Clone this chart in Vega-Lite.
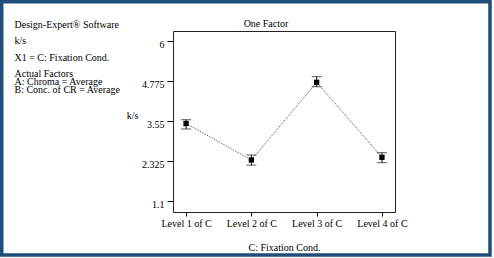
{
  "$schema": "https://vega.github.io/schema/vega-lite/v6.json",
  "width": 222,
  "height": 181,
  "autosize": {"type": "none"},
  "padding": {"left": 173, "top": 31, "right": 99, "bottom": 46},
  "background": "white",
  "title": {
    "text": "One Factor", "anchor": "middle", "frame": "group", "orient": "top",
    "dx": -18, "dy": 35, "offset": 0, "baseline": "alphabetic",
    "font": "Liberation Serif", "fontSize": 10, "fontWeight": "normal", "color": "#000"
  },
  "config": {
    "view": {"stroke": "#222", "strokeWidth": 1},
    "font": "Liberation Serif",
    "axis": {
      "labelFont": "Liberation Serif",
      "titleFont": "Liberation Serif",
      "labelFontSize": 10,
      "titleFontSize": 10,
      "titleFontWeight": "normal",
      "labelColor": "#000",
      "titleColor": "#000",
      "tickColor": "#000",
      "grid": false,
      "domain": false
    }
  },
  "data": {
    "values": [
      {"level": "Level 1 of C", "mean": 3.464, "low": 3.296, "high": 3.58},
      {"level": "Level 2 of C", "mean": 2.347, "low": 2.19, "high": 2.5},
      {"level": "Level 3 of C", "mean": 4.726, "low": 4.59, "high": 4.898},
      {"level": "Level 4 of C", "mean": 2.429, "low": 2.264, "high": 2.57}
    ]
  },
  "resolve": {"axis": {"x": "independent", "y": "independent"}},
  "layer": [
    {
      "mark": {"type": "line", "color": "#555", "strokeDash": [1, 1], "strokeWidth": 1},
      "encoding": {
        "x": {
          "field": "level", "type": "nominal", "sort": null,
          "scale": {"type": "point", "padding": 0.2},
          "axis": {
            "orient": "bottom", "labelAngle": 0, "tickSize": 4, "labelPadding": 2,
            "title": "C: Fixation Cond.", "titleX": 111, "titleY": 38,
            "titleAlign": "center", "titleBaseline": "alphabetic"
          }
        },
        "y": {
          "field": "mean", "type": "quantitative",
          "scale": {"domain": [0.754, 6.297], "nice": false, "zero": false},
          "axis": {
            "values": [1.1, 2.325, 3.55, 4.775, 6], "format": ".4~g",
            "tickSize": 6, "labelPadding": 3, "labelOffset": 3.5,
            "title": "k/s", "titleAngle": 0, "titleX": -41, "titleY": 87,
            "titleAlign": "center", "titleBaseline": "alphabetic"
          }
        }
      }
    },
    {
      "mark": {"type": "rule", "color": "#111", "strokeWidth": 1},
      "encoding": {
        "x": {
          "field": "level", "type": "nominal", "sort": null,
          "axis": {
            "orient": "top", "labels": false, "ticks": false, "domain": false,
            "title": ["Design-Expert® Software", "k/s", "X1 = C: Fixation Cond."],
            "titleX": -159, "titleY": -3.7, "titleLineHeight": 16.6,
            "titleAlign": "left", "titleBaseline": "alphabetic"
          }
        },
        "y": {
          "field": "low", "type": "quantitative",
          "axis": {
            "orient": "right", "labels": false, "ticks": false, "domain": false,
            "title": ["Actual Factors", "A: Chroma = Average", "B: Conc. of CR = Average"],
            "titleAngle": 0, "titleX": -381, "titleY": 45.5,
            "titleAlign": "left", "titleBaseline": "alphabetic", "titleLineHeight": 7.8
          }
        },
        "y2": {"field": "high"}
      }
    },
    {
      "mark": {"type": "tick", "color": "#111", "size": 10, "thickness": 1},
      "encoding": {
        "x": {"field": "level", "type": "nominal", "sort": null, "axis": null},
        "y": {"field": "low", "type": "quantitative", "axis": null}
      }
    },
    {
      "mark": {"type": "tick", "color": "#111", "size": 10, "thickness": 1},
      "encoding": {
        "x": {"field": "level", "type": "nominal", "sort": null, "axis": null},
        "y": {"field": "high", "type": "quantitative", "axis": null}
      }
    },
    {
      "mark": {"type": "point", "shape": "square", "filled": true, "fill": "#000", "size": 28, "opacity": 1, "fillOpacity": 1},
      "encoding": {
        "x": {"field": "level", "type": "nominal", "sort": null, "axis": null},
        "y": {"field": "mean", "type": "quantitative", "axis": null},
        "stroke": {
          "datum": 1, "type": "quantitative",
          "scale": {"domain": [0, 1], "range": ["transparent", "transparent"]},
          "legend": {
            "orient": "none", "legendX": -171.25, "legendY": -29.25,
            "direction": "horizontal", "title": null, "padding": 0, "offset": 0,
            "gradientLength": 488.25, "gradientThickness": 253.25,
            "gradientStrokeColor": "#1f4e79", "gradientStrokeWidth": 3.5,
            "labelOpacity": 0, "labelFontSize": 0, "labelExpr": "''", "tickCount": 1
          }
        }
      }
    }
  ]
}
